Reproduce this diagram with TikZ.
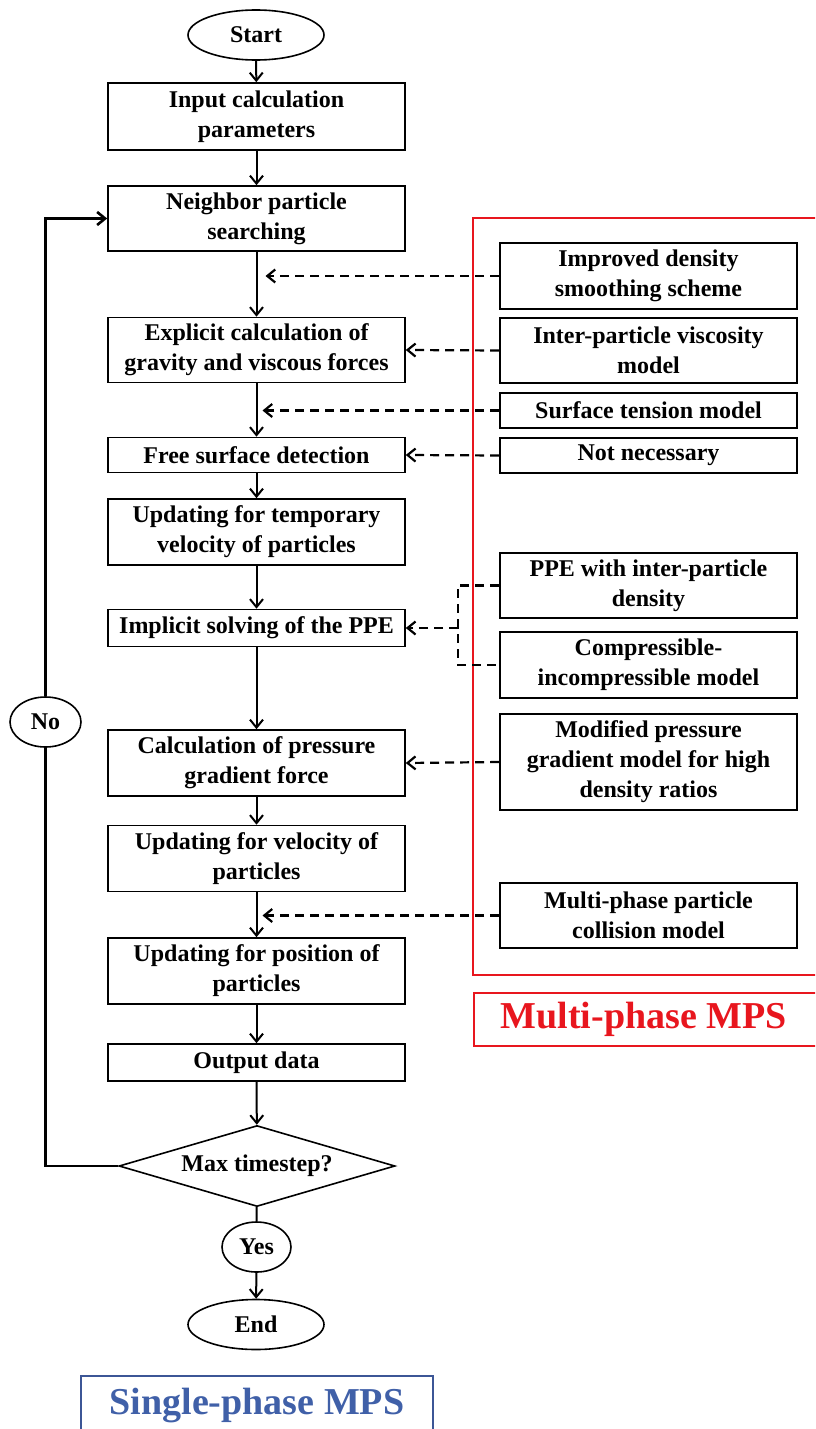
\documentclass[tikz,border=0pt]{standalone}
\usepackage{fontspec}
\setmainfont{Liberation Serif}
\usepackage{tikz}
\usetikzlibrary{arrows.meta,shapes.geometric,positioning}
\definecolor{mpsred}{RGB}{232,22,30}
\definecolor{mpsblue}{RGB}{64,96,168}
\definecolor{mpsframe}{RGB}{60,86,150}

\begin{document}
\begin{tikzpicture}[x=0.5pt, y=-0.5pt,
>={Straight Barb[length=4pt,width=6.5pt]},
font=\fontsize{12}{15}\selectfont\bfseries,
main node/.style={rectangle, draw, line width=0.8pt, minimum width=148.5pt, align=center, inner sep=1pt},
end node/.style={ellipse, draw, line width=0.8pt, minimum width=68pt, minimum height=25pt, inner sep=0pt},
flow/.style={->, line width=1pt},
hint/.style={->, line width=1.1pt, dash pattern=on 4.5pt off 3pt},
title node/.style={rectangle, draw, line width=1.2pt, font=\fontsize{19}{22}\selectfont\bfseries}
	]
	\useasboundingbox (0,0) rectangle (815,1429);
	\clip (0,0) rectangle (815,1429);
	% Nodes
	\node[end node] (S) at (256,35) {Start};
	\node[main node, minimum height=33.5pt] (I) at (256.5,116.5) {Input calculation\\parameters};
	\node[main node, minimum height=32.5pt] (N) at (256.5,218.5) {Neighbor particle\\searching};
	\node[main node, minimum height=32.5pt] (E) at (256.5,350) {Explicit calculation of\\gravity and viscous forces};
	\node[main node, minimum height=17.5pt] (F) at (256.5,455) {Free surface detection};
	\node[main node, minimum height=33pt] (T) at (256.5,532) {Updating for temporary\\velocity of particles};
	\node[main node, minimum height=18.5pt] (P) at (256.5,628) {Implicit solving of the PPE};
	\node[main node, minimum height=33pt] (G) at (256.5,763) {Calculation of pressure\\gradient force};
	\node[main node, minimum height=33pt] (V) at (256.5,858.5) {Updating for velocity of\\particles};
	\node[main node, minimum height=33pt] (X) at (256.5,971) {Updating for position of\\particles};
	\node[main node, minimum height=18.5pt] (O) at (256.5,1062.5) {Output data};
	\node[diamond, draw, line width=0.8pt, aspect=3.4, minimum width=138pt, minimum height=40.5pt, inner sep=0pt] (M) at (257,1166) {Max timestep?};
	\node[end node, minimum width=34.5pt] (Y) at (256.5,1247) {Yes};
	\node[end node] (D) at (256,1324.5) {End};
	\node[end node, minimum width=35.5pt] (No) at (45.5,722) {No};
	% Multi-phase part
	\draw[mpsred, line width=1.2pt] (473,218) rectangle (830,975);
	\node[main node, minimum height=33pt] (A1) at (648.5,276) {Improved density\\smoothing scheme};
	\node[main node, minimum height=32.5pt] (A2) at (648.5,350.5) {Inter-particle viscosity\\model};
	\node[main node, minimum height=17.5pt] (A3) at (648.5,410.5) {Surface tension model};
	\node[main node, minimum height=17.5pt] (A4) at (648.5,455.5) {Not necessary};
	\node[main node, minimum height=32.5pt] (A5) at (648.5,585.5) {PPE with inter-particle\\density};
	\node[main node, minimum height=33pt] (A6) at (648.5,665) {Compressible-\\incompressible model};
	\node[main node, minimum height=48pt] (A7) at (648.5,762) {Modified pressure\\gradient model for high\\density ratios};
	\node[main node, minimum height=32.5pt] (A8) at (648.5,915.5) {Multi-phase particle\\collision model};
	\node[title node, mpsred, text=mpsred, minimum width=175.5pt, minimum height=26.5pt, anchor=west] (MT) at (473,1019.5) {\hspace*{-6pt}Multi-phase MPS};
	\node[title node, draw=mpsframe, text=mpsblue, minimum width=176pt, minimum height=29pt] (ST) at (257,1405) {Single-phase MPS};
	% Edges
	\path[flow]
	(S) edge (I)
	(I) edge (N)
	(N) edge (E)
	(E) edge (F)
	(F) edge (T)
	(T) edge (P)
	(P) edge (G)
	(G) edge (V)
	(V) edge (X)
	(X) edge (O)
	(O) edge (M)
	(Y) edge (D);
	\draw[line width=1pt] (M) -- (Y);
	\draw[line width=1.3pt] (M.west) -| (No.south);
	\draw[flow, line width=1.3pt] (No.north) |- (N.west);
	% Dashed links
	\coordinate (B) at (458,628);
	\draw[hint, shorten >=4.5pt] (A1.west) -- (A1.west -| N.south);
	\draw[hint] (A2.west) -- (E.east);
	\draw[hint, shorten >=3pt] (A3.west) -- (A3.west -| E.south);
	\draw[hint] (A4.west) -- (F.east);
	\draw[line width=1.1pt, dash pattern=on 4.5pt off 3pt] (A5.west) -| (B) |- (A6.west);
	\draw[hint] (B) -- (P.east);
	\draw[hint] (A7.west) -- (G.east);
	\draw[hint, shorten >=3pt] (A8.west) -- (A8.west -| V.south);
\end{tikzpicture}
\end{document}
